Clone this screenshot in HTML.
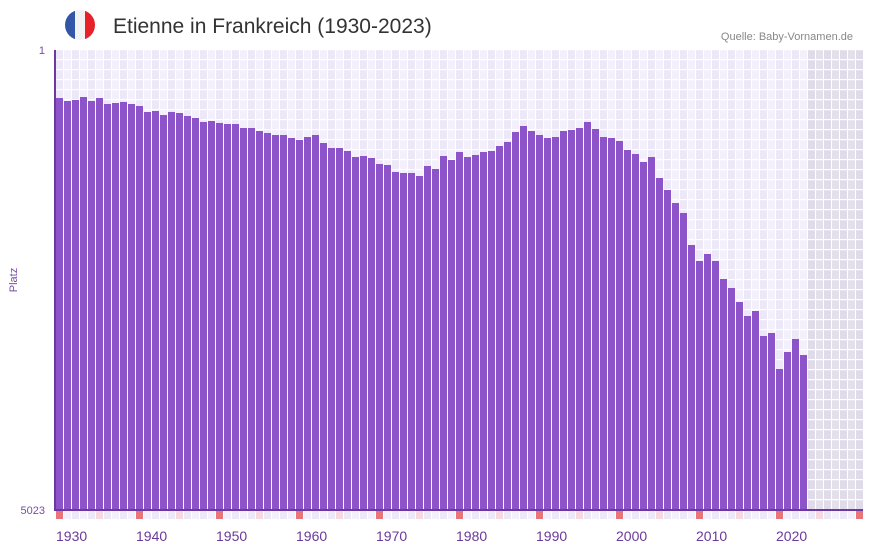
<!DOCTYPE html>
<html><head><meta charset="utf-8"><style>
body{margin:0;background:#fff;font-family:"Liberation Sans",sans-serif;}
</style></head><body>
<svg id="s" width="873" height="552" xmlns="http://www.w3.org/2000/svg" style="display:block">
<defs><clipPath id="c"><circle cx="80" cy="25" r="15"/></clipPath></defs>
<g clip-path="url(#c)"><rect x="65" y="10" width="10" height="30" fill="#3355a8"/><rect x="75" y="10" width="10" height="30" fill="#f2f2f4"/><rect x="85" y="10" width="10" height="30" fill="#e8202a"/></g>
<text x="113" y="33" font-size="21" fill="#333">Etienne in Frankreich (1930-2023)</text>
<text x="853" y="40" font-size="11" fill="#888" text-anchor="end">Quelle: Baby-Vornamen.de</text>
<text x="45" y="54" font-size="11" fill="#7a4aaa" text-anchor="end">1</text>
<text x="45" y="514" font-size="11" fill="#7a4aaa" text-anchor="end">5023</text>
<text x="17" y="280" font-size="11" fill="#7a4aaa" text-anchor="middle" transform="rotate(-90 17 280)">Platz</text>
<g id="g"></g>
</svg>
<script>
var g=document.getElementById('g'),h='';
var tops=[98,101,100,97,101,98,104,103,102,104,106,112,111,115,112,113,116,118,122,121,123,124,124,128,128,131,133,135,135,138,140,137,135,143,148,148,151,157,156,158,164,165,172,173,173,176,166,169,156,160,152,157,155,152,151,146,142,132,126,131,135,138,137,131,130,128,122,129,137,138,141,150,154,162,157,178,190,203,213,245,261,254,261,279,288,302,316,311,336,333,369,352,339,355];
for(var i=0;i<101;i++){var x=55+i*8;var col=i>=94?(i%2?'#e3dfeb':'#e0dbe9'):(i%2?'#f3f0fb':'#ede8f8');
h+='<rect x="'+x+'" y="50" width="8" height="460" fill="'+col+'"/>';
var y=1930+i,m=y%10,bc=m==0?'#e8757a':(m==5?'#f5d8e0':(i%2?'#f3f0fb':'#ede8f8'));
h+='<rect x="'+(x+1)+'" y="511" width="7" height="8" fill="'+bc+'"/>';
if(m==0&&i<94)h+='<text x="'+(x+1)+'" y="541" font-size="14" fill="#6a3a9a">'+y+'</text>';}
for(var k=0;k<=46;k++)h+='<rect x="55" y="'+(50+k*10-1)+'" width="808" height="1.2" fill="#fff"/>';
for(var i=0;i<=101;i++)h+='<rect x="'+(55+i*8)+'" y="50" width="1" height="460" fill="#fff"/>';
for(var i=0;i<94;i++)h+='<rect x="'+(56+i*8)+'" y="'+tops[i]+'" width="7" height="'+(510-tops[i])+'" fill="#8c54c8"/>';
h+='<rect x="54" y="50" width="2" height="461" fill="#6a3aa0"/><rect x="54" y="509" width="809" height="2" fill="#6a3aa0"/>';
g.innerHTML=h;
</script>
</body></html>
